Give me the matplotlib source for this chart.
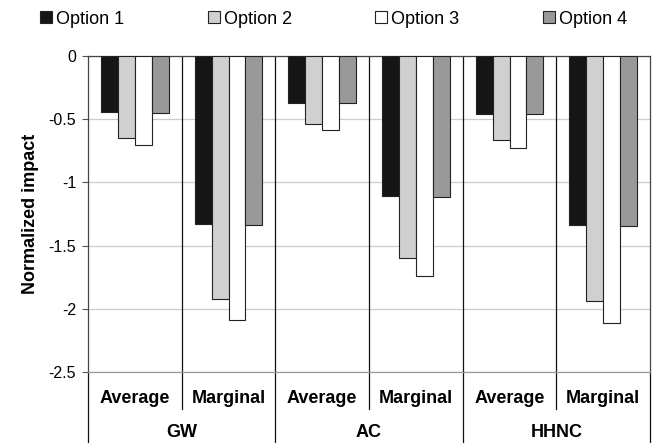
import matplotlib.pyplot as plt
import numpy as np

plt.rcParams['font.family'] = ['Liberation Sans', 'DejaVu Sans']

groups = ['GW', 'AC', 'HHNC']
subcats = ['Average', 'Marginal']
options = ['Option 1', 'Option 2', 'Option 3', 'Option 4']

# values per option, order: GW avg, GW marg, AC avg, AC marg, HHNC avg, HHNC marg
opt1 = [-0.445, -1.33, -0.37, -1.11, -0.46, -1.34]
opt2 = [-0.645, -1.92, -0.54, -1.60, -0.665, -1.94]
opt3 = [-0.70, -2.09, -0.585, -1.74, -0.73, -2.11]
opt4 = [-0.45, -1.34, -0.375, -1.115, -0.46, -1.345]

colors = ['#161616', '#d0d0d0', '#ffffff', '#999999']

fig = plt.figure(figsize=(6.52, 4.43), dpi=100)
ax = fig.add_axes([0.135, 0.160, 0.862, 0.7135])

n = len(opt1)
x = np.arange(n)
w = 0.18
for i, (vals, c) in enumerate(zip([opt1, opt2, opt3, opt4], colors)):
    ax.bar(x + 0.5 + (i - 1.5) * w, vals, w, color=c, edgecolor='#222222',
           linewidth=0.8, label=options[i], zorder=3)

ax.set_xlim(0, n)
ax.set_ylim(-2.5, 0)
ax.set_yticks([0, -0.5, -1, -1.5, -2, -2.5])
ax.set_yticklabels(['0', '-0.5', '-1', '-1.5', '-2', '-2.5'], fontsize=11.5)
ax.set_xticks([])
ax.yaxis.grid(True, color='#cccccc', linewidth=0.9, zorder=0)
ax.tick_params(axis='y', length=4.5, width=0.8, color='#555555', pad=4)
for s in ['left', 'top', 'right']:
    ax.spines[s].set_color('#444444')
    ax.spines[s].set_linewidth(0.9)
ax.spines['bottom'].set_color('#999999')
ax.spines['bottom'].set_linewidth(0.9)

# separators inside the plot
for b in range(1, n):
    ax.axvline(b, color='#111111', linewidth=0.9, zorder=2)

ax.set_ylabel('Normalized impact', fontsize=13, fontweight='bold', labelpad=7)

# category labels below the plot
trans = ax.get_xaxis_transform()
for k in range(n):
    ax.text(k + 0.5, -0.082, subcats[k % 2], transform=trans, ha='center',
            va='center', fontsize=13, fontweight='bold')
for k in range(1, n, 2):
    ax.plot([k, k], [0, -0.118], transform=trans, color='#111111',
            linewidth=0.9, clip_on=False)
for k in range(0, n + 1, 2):
    ax.plot([k, k], [0, -0.23], transform=trans, color='#111111',
            linewidth=0.9, clip_on=False)
for g, name in enumerate(groups):
    ax.text(2 * g + 1, -0.19, name, transform=trans, ha='center',
            va='center', fontsize=13, fontweight='bold')

fig.legend(loc='center left', bbox_to_anchor=(0.061, 0.957, 0.901, 0.0),
           mode='expand', ncol=4, frameon=False, fontsize=13,
           handlelength=0.67, handleheight=0.67, handletextpad=0.22,
           borderaxespad=0, borderpad=0)

fig.savefig('out.png', dpi=100)
